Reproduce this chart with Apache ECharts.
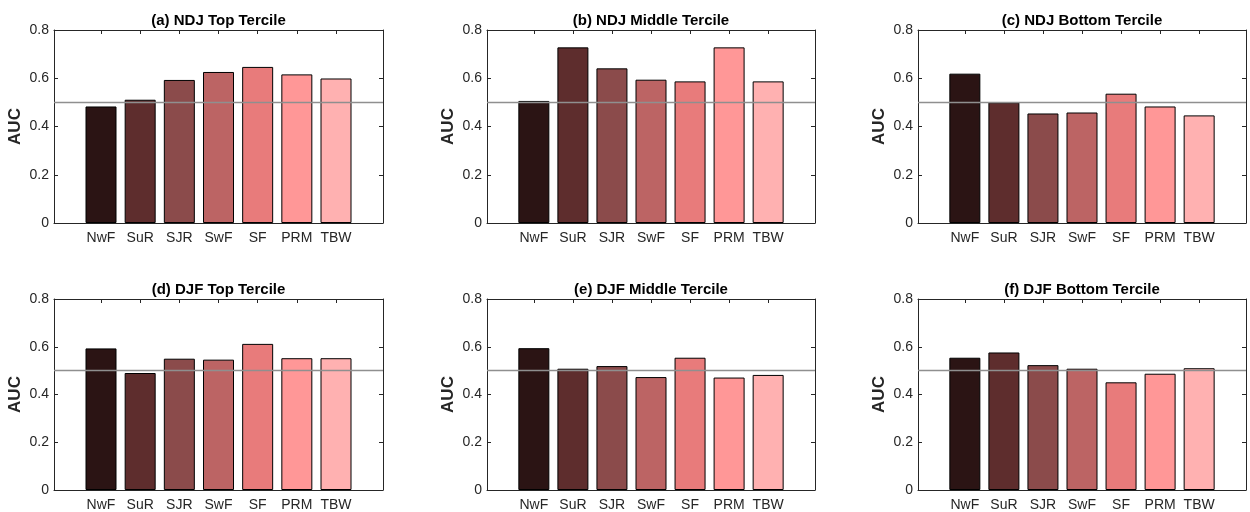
<!DOCTYPE html>
<html>
<head>
<meta charset="utf-8">
<script src="https://cdn.jsdelivr.net/npm/echarts@6/dist/echarts.min.js"></script>
<style>html,body{margin:0;padding:0;background:#fff}#c{width:1250px;height:512px}</style>
</head>
<body>
<div id="c"></div>
<script>
// ---- data ----
const categories = ['NwF', 'SuR', 'SJR', 'SwF', 'SF', 'PRM', 'TBW'];
const panelTitles = ['(a) NDJ Top Tercile', '(b) NDJ Middle Tercile', '(c) NDJ Bottom Tercile',
                     '(d) DJF Top Tercile', '(e) DJF Middle Tercile', '(f) DJF Bottom Tercile'];
const ndjTop    = [0.483, 0.511, 0.593, 0.626, 0.647, 0.616, 0.599];
const ndjMiddle = [0.506, 0.728, 0.641, 0.594, 0.587, 0.728, 0.587];
const ndjBottom = [0.619, 0.500, 0.454, 0.458, 0.536, 0.483, 0.446];
const djfTop    = [0.593, 0.490, 0.550, 0.546, 0.612, 0.552, 0.552];
const djfMiddle = [0.594, 0.508, 0.519, 0.473, 0.554, 0.471, 0.482];
const djfBottom = [0.554, 0.576, 0.523, 0.508, 0.451, 0.487, 0.510];
const yTickValues = [0, 0.2, 0.4, 0.6, 0.8];
const referenceAUC = 0.5;
const yAxisTitle = 'AUC';

// ---- styles / layout ----
const panelValues = [ndjTop, ndjMiddle, ndjBottom, djfTop, djfMiddle, djfBottom];
const barColors = ['#2B1414', '#5E2D2D', '#8B4B4B', '#BC6464', '#E87B7B', '#FF9797', '#FFB1B1'];
const colLefts = [54, 487, 918];
const colWidths = [329, 328, 328];
const rowTops = [30, 299];
const plotH = 193;
const axisColor = '#262626';
const FONT = 'Liberation Sans, Arial, Helvetica, sans-serif';

const grids = [], xAxes = [], yAxes = [], series = [], titles = [];
panelValues.forEach((vals, p) => {
  const r = Math.floor(p / 3), c = p % 3;
  const left = colLefts[c], top = rowTops[r], w = colWidths[c];
  grids.push({left: left, top: top, width: w, height: plotH, containLabel: false});
  titles.push({
    text: panelTitles[p], left: left + w / 2, top: top - 17, textAlign: 'center', padding: 0,
    textStyle: {fontFamily: FONT, fontSize: 15, fontWeight: 'bold', color: '#000'}
  });
  const tickIdx = categories.map((_, i) => i + 1);
  // bottom x axis
  xAxes.push({
    gridIndex: p, type: 'value', position: 'bottom', min: -0.2, max: 8.2,
    axisLine: {show: true, onZero: false, lineStyle: {color: axisColor, width: 1}},
    axisTick: {show: true, inside: true, length: 4, customValues: tickIdx, lineStyle: {color: axisColor}},
    axisLabel: {show: true, customValues: tickIdx, margin: 8, fontFamily: FONT, fontSize: 14, color: axisColor,
                formatter: v => categories[Math.round(v) - 1] || ''},
    splitLine: {show: false}
  });
  // top x axis (box)
  xAxes.push({
    gridIndex: p, type: 'value', position: 'top', min: -0.2, max: 8.2,
    axisLine: {show: true, onZero: false, lineStyle: {color: axisColor, width: 1}},
    axisTick: {show: true, inside: true, length: 4, customValues: tickIdx, lineStyle: {color: axisColor}},
    axisLabel: {show: false},
    splitLine: {show: false}
  });
  // left y axis
  yAxes.push({
    gridIndex: p, type: 'value', position: 'left', min: 0, max: 0.8, interval: 0.2,
    name: yAxisTitle, nameLocation: 'middle', nameGap: 30, nameRotate: 90,
    nameTextStyle: {fontFamily: FONT, fontSize: 17, fontWeight: 'bold', color: axisColor},
    axisLine: {show: true, onZero: false, lineStyle: {color: axisColor, width: 1}},
    axisTick: {show: true, inside: true, length: 4, lineStyle: {color: axisColor}},
    axisLabel: {show: true, margin: 5, fontFamily: FONT, fontSize: 14, color: axisColor,
                formatter: v => (Math.abs(v) < 1e-9 ? '0' : v.toFixed(1))},
    splitLine: {show: false}
  });
  // right y axis (box)
  yAxes.push({
    gridIndex: p, type: 'value', position: 'right', min: 0, max: 0.8, interval: 0.2,
    axisLine: {show: true, onZero: false, lineStyle: {color: axisColor, width: 1}},
    axisTick: {show: true, inside: true, length: 4, lineStyle: {color: axisColor}},
    axisLabel: {show: false},
    splitLine: {show: false}
  });
  series.push({
    type: 'bar', xAxisIndex: 2 * p, yAxisIndex: 2 * p, barWidth: 31,
    data: vals.map((v, i) => ({value: [i + 1, v], itemStyle: {color: barColors[i]}})),
    itemStyle: {borderColor: '#000', borderWidth: 1},
    silent: true,
    markLine: {
      silent: true, symbol: 'none', z: 10, label: {show: false},
      lineStyle: {color: '#8f8f8f', width: 1.3, type: 'solid'},
      data: [{yAxis: referenceAUC}]
    }
  });
});

const chart = echarts.init(document.getElementById('c'), null, {renderer: 'canvas'});
chart.setOption({
  animation: false,
  backgroundColor: '#fff',
  title: titles,
  grid: grids,
  xAxis: xAxes,
  yAxis: yAxes,
  series: series
});
</script>
</body>
</html>
